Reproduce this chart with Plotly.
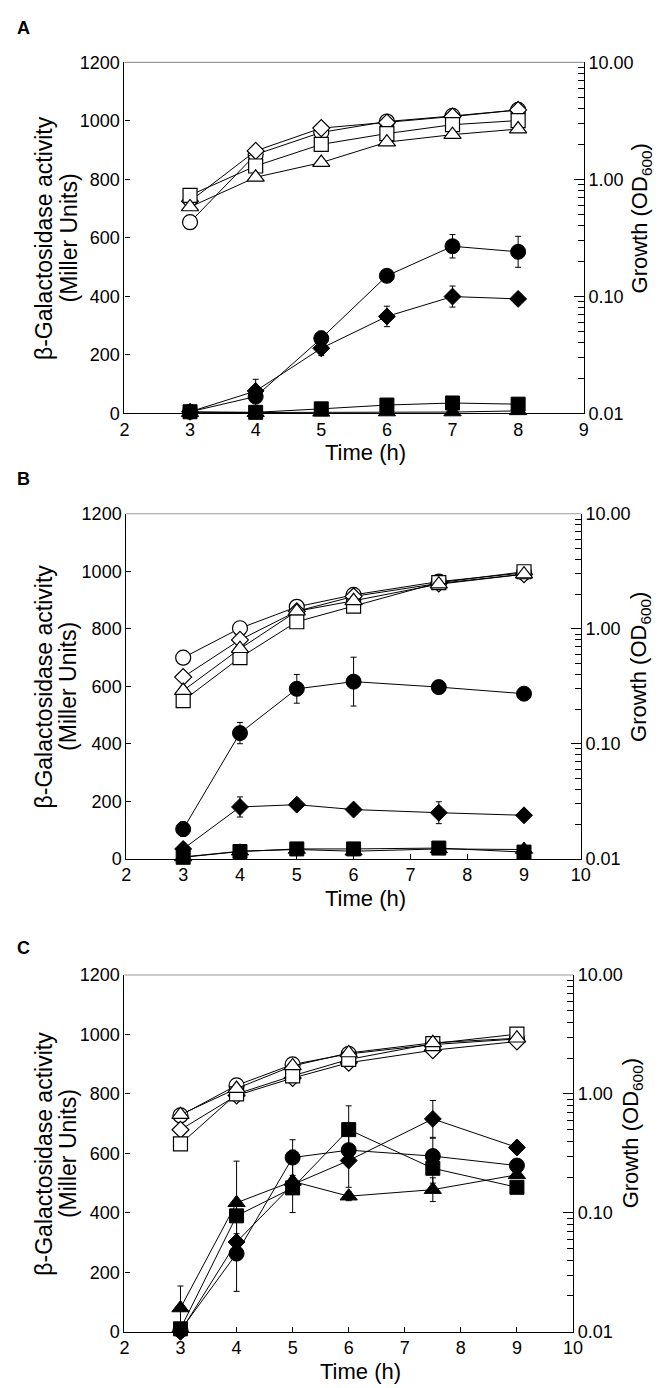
import plotly.graph_objects as go

# ---------------- DATA ----------------
# Panel A
time_A = [3, 4, 5, 6, 7, 8]
A_act_circle = [5, 57, 256, 470, 571, 552]
A_err_circle = [3, 30, 25, 15, 40, 53]
A_act_diamond = [5, 76, 222, 331, 399, 391]
A_err_diamond = [2, 40, 25, 35, 36, 10]
A_act_square = [5, 3, 15, 28, 35, 31]
A_err_square = [0, 0, 0, 0, 0, 0]
A_act_triangle = [2, 2, 3, 4, 4, 8]
A_err_triangle = [0, 0, 0, 0, 0, 0]
A_od_circle = [0.43, 1.63, 2.52, 3.12, 3.48, 3.92]
A_od_diamond = [0.65, 1.75, 2.74, 3.06, 3.44, 3.92]
A_od_square = [0.73, 1.30, 1.99, 2.46, 2.93, 3.18]
A_od_triangle = [0.58, 1.04, 1.39, 2.08, 2.41, 2.69]

# Panel B
time_B = [3, 4, 5, 6, 7.5, 9]
B_act_circle = [103, 437, 591, 616, 597, 574]
B_err_circle = [25, 37, 50, 85, 8, 12]
B_act_diamond = [34, 180, 188, 171, 160, 151]
B_err_diamond = [0, 35, 15, 0, 38, 0]
B_act_square = [5, 25, 34, 34, 37, 23]
B_err_square = [0, 0, 0, 0, 0, 0]
B_act_triangle = [6, 26, 32, 26, 34, 32]
B_err_triangle = [0, 0, 0, 0, 0, 0]
B_od_circle = [0.56, 1.01, 1.55, 1.97, 2.57, 3.06]
B_od_diamond = [0.38, 0.80, 1.42, 1.91, 2.48, 2.98]
B_od_square = [0.237, 0.56, 1.15, 1.57, 2.52, 3.13]
B_od_triangle = [0.29, 0.67, 1.42, 1.75, 2.44, 2.98]

# Panel C
time_C = [3, 4, 5, 6, 7.5, 9]
C_act_circle = [5, 263, 586, 611, 591, 559]
C_err_circle = [0, 127, 60, 0, 60, 0]
C_act_diamond = [0, 302, 495, 576, 716, 620]
C_err_diamond = [0, 28, 0, 90, 62, 0]
C_act_square = [10, 390, 484, 680, 550, 486]
C_err_square = [0, 0, 0, 80, 50, 0]
C_act_triangle = [80, 434, 506, 456, 478, 528]
C_err_triangle = [74, 140, 105, 15, 40, 0]
C_od_circle = [0.66, 1.18, 1.77, 2.17, 2.60, 2.90]
C_od_diamond = [0.50, 0.97, 1.36, 1.83, 2.33, 2.76]
C_od_square = [0.38, 1.00, 1.42, 1.95, 2.65, 3.18]
C_od_triangle = [0.67, 1.11, 1.72, 2.21, 2.69, 2.94]

left_ticks = [0, 200, 400, 600, 800, 1000, 1200]
right_tickvals = [0.01, 0.1, 1, 10]
right_ticktext = ["0.01", "0.10", "1.00", "10.00"]

# ---------------- LAYOUT GEOMETRY ----------------
W, H = 661, 1388
FONT = "Liberation Sans, Arial, sans-serif"
panels = [
    dict(letter="A", x0=114, x1=584, yt=45, yb=401, xmax=9, ly=10, rt=643),
    dict(letter="B", x0=116, x1=581, yt=503, yb=853, xmax=10, ly=468, rt=641),
    dict(letter="C", x0=114, x1=573, yt=971, yb=1333, xmax=10, ly=944, rt=633),
]
data = [
    (time_A,
     [(A_act_circle, A_err_circle, "circle"), (A_act_diamond, A_err_diamond, "diamond"),
      (A_act_square, A_err_square, "square"), (A_act_triangle, A_err_triangle, "triangle-up")],
     [(A_od_circle, "circle"), (A_od_diamond, "diamond"), (A_od_square, "square"), (A_od_triangle, "triangle-up")]),
    (time_B,
     [(B_act_circle, B_err_circle, "circle"), (B_act_diamond, B_err_diamond, "diamond"),
      (B_act_square, B_err_square, "square"), (B_act_triangle, B_err_triangle, "triangle-up")],
     [(B_od_circle, "circle"), (B_od_diamond, "diamond"), (B_od_square, "square"), (B_od_triangle, "triangle-up")]),
    (time_C,
     [(C_act_circle, C_err_circle, "circle"), (C_act_diamond, C_err_diamond, "diamond"),
      (C_act_square, C_err_square, "square"), (C_act_triangle, C_err_triangle, "triangle-up")],
     [(C_od_circle, "circle"), (C_od_diamond, "diamond"), (C_od_square, "square"), (C_od_triangle, "triangle-up")]),
]

size_of = {"circle": 15, "diamond": 13, "square": 14, "triangle-up": 15}

fig = go.Figure()
layout = dict(width=W, height=H, margin=dict(l=0, r=0, t=0, b=0),
              paper_bgcolor="white", plot_bgcolor="white", showlegend=False,
              font=dict(family=FONT, color="black"))
annotations = []
shapes = []

minor_vals = [m * 10 ** e for e in (-2, -1, 0) for m in range(2, 10)]

for i, (p, (t, filled, opened)) in enumerate(zip(panels, data)):
    xn = "" if i == 0 else str(i + 1)
    yl = str(2 * i + 1) if i > 0 else ""
    yr = str(2 * i + 2)
    xdom = [p["x0"] / W, p["x1"] / W]
    ydom = [1 - p["yb"] / H, 1 - p["yt"] / H]
    xref = "x" + xn
    ylref = "y" + yl
    yrref = "y" + yr
    layout["xaxis" + xn] = dict(domain=xdom, anchor=ylref, range=[2, p["xmax"]], dtick=1,
                                ticks="inside", ticklen=5, tickcolor="black",
                                showline=True, linecolor="black", linewidth=1.2,
                                showgrid=False, zeroline=False,
                                tickfont=dict(size=18, family=FONT))
    layout["yaxis" + yl] = dict(domain=ydom, anchor=xref, range=[0, 1200], tickvals=left_ticks,
                                ticks="inside", ticklen=5, tickcolor="black",
                                showline=True, linecolor="black", linewidth=1.2,
                                showgrid=False, zeroline=False,
                                tickfont=dict(size=18, family=FONT))
    layout["yaxis" + yr] = dict(overlaying=ylref, anchor=xref, side="right", type="log",
                                range=[-2, 1], tickvals=right_tickvals, ticktext=right_ticktext,
                                ticks="inside", ticklen=10, tickcolor="black",
                                minor=dict(tickvals=minor_vals, ticks="inside", ticklen=6,
                                           tickcolor="black"),
                                showline=True, linecolor="black", linewidth=1.2,
                                showgrid=False, zeroline=False,
                                tickfont=dict(size=18, family=FONT))
    shapes.append(dict(type="line", xref=xref + " domain", yref=ylref + " domain",
                       x0=0, x1=1, y0=1, y1=1, line=dict(color="#9a9a9a", width=1.2)))

    for vals, err, sym in filled:
        fig.add_trace(go.Scatter(
            x=t, y=vals, xaxis=xref, yaxis=ylref, mode="lines+markers", cliponaxis=False,
            line=dict(color="black", width=1),
            marker=dict(symbol=sym, size=size_of[sym], color="black",
                        line=dict(color="black", width=1)),
            error_y=dict(type="data", array=err, color="black", thickness=1, width=3)))
    for vals, sym in opened:
        fig.add_trace(go.Scatter(
            x=t, y=vals, xaxis=xref, yaxis=yrref, mode="lines+markers", cliponaxis=False,
            line=dict(color="black", width=1),
            marker=dict(symbol=sym, size=size_of[sym], color="white",
                        line=dict(color="black", width=1.2))))

    ymid = (p["yt"] + p["yb"]) / 2
    annotations.append(dict(text="<b>%s</b>" % p["letter"], xref="paper", yref="paper",
                            x=2 / W, y=1 - p["ly"] / H, xanchor="left", yanchor="middle",
                            showarrow=False, font=dict(size=18, family=FONT)))
    annotations.append(dict(text="β-Galactosidase activity", xref="paper", yref="paper",
                            x=32 / W, y=1 - ymid / H, textangle=-90, xanchor="center",
                            yanchor="middle", showarrow=False, font=dict(size=23, family=FONT)))
    annotations.append(dict(text="(Miller Units)", xref="paper", yref="paper",
                            x=57 / W, y=1 - ymid / H, textangle=-90, xanchor="center",
                            yanchor="middle", showarrow=False, font=dict(size=23, family=FONT)))
    annotations.append(dict(text="Growth (OD<sub>600</sub>)", xref="paper", yref="paper",
                            x=p["rt"] / W, y=1 - (ymid - 20) / H, textangle=-90,
                            xanchor="center", yanchor="middle", showarrow=False,
                            font=dict(size=22, family=FONT)))
    annotations.append(dict(text="Time (h)", xref="paper", yref="paper",
                            x=((p["x0"] + p["x1"]) / 2 + 12) / W, y=1 - (p["yb"] + 40) / H,
                            xanchor="center", yanchor="middle", showarrow=False,
                            font=dict(size=22, family=FONT)))

layout["annotations"] = annotations
layout["shapes"] = shapes
fig.update_layout(**layout)
fig.write_html("out.html")
